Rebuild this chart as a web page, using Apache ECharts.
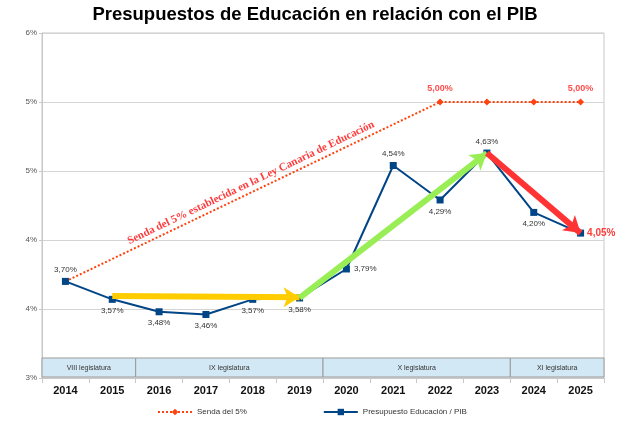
<!DOCTYPE html>
<html>
<head>
<meta charset="utf-8">
<script src="https://cdn.jsdelivr.net/npm/echarts@6/dist/echarts.min.js"></script>
<style>
  html, body { margin: 0; padding: 0; background: #fff; }
  #chart { width: 630px; height: 424px; }
</style>
</head>
<body>
<div id="chart"></div>
<script>
// datos
var years = ['2014', '2015', '2016', '2017', '2018', '2019', '2020', '2021', '2022', '2023', '2024', '2025'];
var presupuesto = [3.70, 3.57, 3.48, 3.46, 3.57, 3.58, 3.79, 4.54, 4.29, 4.63, 4.20, 4.05];
var senda = [3.70, null, null, null, null, null, null, null, 5.00, 5.00, 5.00, 5.00];

// legislaturas (año inicio, año fin, nombre)
var legNames = ['VIII legislatura', 'IX legislatura', 'X legislatura', 'XI legislatura'];
var legStart = ['2014', '2016', '2020', '2024'];
var legEnd = ['2015', '2019', '2023', '2025'];

// flechas (desde, hasta)
var arrowYellow = [['2015', 3.595], ['2019', 3.585]];
var arrowGreen = [['2019', 3.58], ['2023', 4.63]];
var arrowRed = [['2023', 4.63], ['2025', 4.05]];

var fmt = function (v) { return v.toFixed(2).replace('.', ',') + '%'; };

// posicion de cada etiqueta del presupuesto
var labelPos = ['top', 'bottom', 'bottom', 'bottom', 'bottom', 'bottom', 'right', 'top', 'bottom', 'top', 'bottom', 'right'];

var chart = echarts.init(document.getElementById('chart'));

var presData = presupuesto.map(function (v, i) {
  var it = { value: v, label: { position: labelPos[i] } };
  if (i === presupuesto.length - 1) {
    it.label = { position: 'right', color: '#ff3b3b', fontWeight: 'bold', fontSize: 10, distance: 3 };
  }
  return it;
});

var sendaData = senda.map(function (v, i) {
  var showLbl = (i === 8 || i === 11);
  return { value: v, label: { show: showLbl } };
});

var legData = legNames.map(function (n, i) {
  return [years.indexOf(legStart[i]), years.indexOf(legEnd[i]), n];
});

function arrow(pts, color, width) {
  return [
    { coord: pts[0], lineStyle: { color: color, width: width, type: 'solid' } },
    { coord: pts[1] }
  ];
}

var option = {
  animation: false,
  title: {
    text: 'Presupuestos de Educación en relación con el PIB',
    left: 'center',
    top: 0,
    textStyle: { fontFamily: 'Liberation Sans', fontSize: 18.5, fontWeight: 'bold', color: '#000' }
  },
  grid: { left: 42, right: 26, top: 33, bottom: 46, show: true, borderColor: '#c8c8c8', borderWidth: 1 },
  legend: {
    data: ['Senda del 5%', 'Presupuesto Educación / PIB'],
    left: 152,
    top: 403,
    itemGap: 76,
    itemWidth: 34,
    itemHeight: 8,
    textStyle: { fontFamily: 'Liberation Sans', fontSize: 8, color: '#333' }
  },
  xAxis: {
    type: 'category',
    data: years,
    boundaryGap: true,
    axisLine: { lineStyle: { color: '#c8c8c8' } },
    axisTick: { show: true, interval: 0, lineStyle: { color: '#c8c8c8' } },
    axisLabel: { fontFamily: 'Liberation Sans', fontSize: 11, fontWeight: 'bold', color: '#111', margin: 7 }
  },
  yAxis: {
    type: 'value',
    min: 3.0,
    max: 5.5,
    interval: 0.5,
    axisLine: { show: true, lineStyle: { color: '#c8c8c8' } },
    axisTick: { show: true, length: 3, lineStyle: { color: '#c8c8c8' } },
    splitLine: { lineStyle: { color: '#d4d4d4' } },
    axisLabel: {
      fontFamily: 'Liberation Sans', fontSize: 8, color: '#555', margin: 5,
      formatter: function (v) { return Math.round(v) + '%'; }
    }
  },
  series: [
    {
      name: 'Legislaturas',
      type: 'custom',
      z: 1,
      silent: true,
      data: legData,
      encode: { x: [0, 1] },
      renderItem: function (params, api) {
        var bw = api.size([1, 0])[0];
        var p0 = api.coord([api.value(0), 3.0]);
        var p1 = api.coord([api.value(1), 3.0]);
        var top = api.coord([api.value(0), 3.145])[1];
        var x = p0[0] - bw / 2;
        var w = p1[0] - p0[0] + bw;
        return {
          type: 'group',
          children: [
            {
              type: 'rect',
              shape: { x: x, y: top, width: w, height: p0[1] - top - 1 },
              style: { fill: '#d3e8f5', stroke: '#9a9a9a', lineWidth: 1 }
            },
            {
              type: 'text',
              style: {
                text: legNames[params.dataIndex],
                x: x + w / 2, y: (top + p0[1]) / 2,
                align: 'center', verticalAlign: 'middle',
                fontFamily: 'Liberation Sans', fontSize: 7, fill: '#333'
              }
            }
          ]
        };
      }
    },
    {
      name: 'Senda del 5%',
      type: 'line',
      z: 3,
      data: sendaData,
      connectNulls: true,
      symbol: 'diamond',
      symbolSize: 7,
      showSymbol: true,
      itemStyle: { color: '#ff420e' },
      lineStyle: { color: '#ff420e', width: 2, type: [2, 2] },
      label: {
        show: false, position: 'top', distance: 5,
        color: '#ff4d4d', fontWeight: 'bold', fontSize: 9, fontFamily: 'Liberation Sans',
        formatter: function (p) { return fmt(p.value); }
      }
    },
    {
      name: 'Presupuesto Educación / PIB',
      type: 'line',
      z: 4,
      data: presData,
      symbol: 'rect',
      symbolSize: 7,
      itemStyle: { color: '#004586' },
      lineStyle: { color: '#004586', width: 2 },
      label: {
        show: true, distance: 4,
        color: '#333', fontSize: 8, fontFamily: 'Liberation Sans',
        formatter: function (p) { return fmt(p.value); }
      },
      markLine: {
        silent: true,
        symbol: ['none', 'arrow'],
        symbolSize: [15, 16],
        label: { show: false },
        z: 5,
        data: [
          arrow(arrowYellow, '#ffcc00', 6),
          arrow(arrowGreen, '#99ee55', 6),
          arrow(arrowRed, '#ff3333', 6)
        ]
      }
    }
  ]
};

chart.setOption(option);

// texto inclinado a lo largo de la senda
var a = chart.convertToPixel({ seriesIndex: 1 }, [years.indexOf('2014'), senda[0]]);
var b = chart.convertToPixel({ seriesIndex: 1 }, [years.indexOf('2022'), senda[8]]);
var ang = Math.atan2(a[1] - b[1], b[0] - a[0]);
var mx = (a[0] + b[0]) / 2 - 11 * Math.sin(ang) + 3;
var my = (a[1] + b[1]) / 2 - 11 * Math.cos(ang) + 1;
chart.setOption({
  graphic: [{
    type: 'text',
    x: mx, y: my,
    rotation: ang,
    z: 10,
    style: {
      text: 'Senda del 5% establecida en la Ley Canaria de Educación',
      align: 'center', verticalAlign: 'middle',
      fontFamily: 'Liberation Serif', fontSize: 11, fontWeight: 'bold', fill: '#ff3b3b'
    }
  }]
});
</script>
</body>
</html>
